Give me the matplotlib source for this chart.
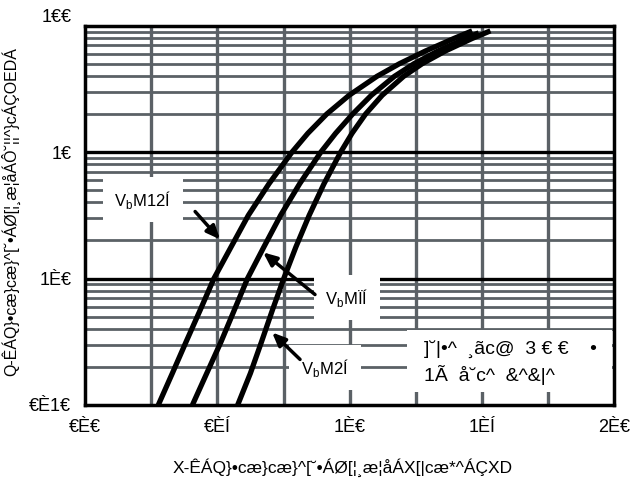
import numpy as np
import matplotlib
matplotlib.use('Agg')
import matplotlib.pyplot as plt
import matplotlib.transforms as mtransforms
from matplotlib.patches import Rectangle

plt.rcParams['font.family'] = ['Liberation Sans', 'DejaVu Sans']

# forward curves, current (A) and voltage (V)
i_hot = [0.1, 0.178, 0.316, 0.562, 1, 1.78, 3.16, 5.62, 10, 14.1, 20, 28.2, 39.8, 50.1,
         63.1, 79.4, 91.2]
v_hot = [0.277, 0.330, 0.382, 0.435, 0.487, 0.552, 0.617, 0.695, 0.782, 0.842, 0.913, 0.998,
         1.103, 1.188, 1.286, 1.394, 1.463]
i_mid = [0.1, 0.178, 0.316, 0.562, 1, 1.78, 3.16, 5.62, 10, 14.1, 20, 28.2, 39.8, 50.1,
         63.1, 79.4, 88.0]
v_mid = [0.406, 0.460, 0.514, 0.564, 0.614, 0.676, 0.739, 0.811, 0.891, 0.947, 1.011, 1.082,
         1.169, 1.243, 1.333, 1.438, 1.488]
i_cold = [0.1, 0.178, 0.316, 0.562, 1, 1.78, 3.16, 5.62, 10, 14.1, 20, 28.2, 39.8, 50.1,
          63.1, 79.4, 91.2]
v_cold = [0.577, 0.625, 0.667, 0.708, 0.751, 0.797, 0.847, 0.903, 0.966, 1.009, 1.06, 1.123,
          1.204, 1.274, 1.361, 1.463, 1.532]

xticks = [0, 0.5, 1.0, 1.5, 2.0]
xticklabels = ['€È€', '€ÈÍ', '1È€', '1ÈÍ', '2È€']
yticks = [0.1, 1, 10, 100]
yticklabels = ['€È1€', '1È€', '1€', '1€€']

xlabel = 'X-ÊÁQ}•cæ}cæ}^[˘•ÁØ[¦¸æ¦åÁX[|cæ*^ÁÇXD'
ylabel = 'Q-ÊÁQ}•cæ}cæ}^[˘•ÁØ[¦¸æ¦åÁÔ˘¦¦^}cÁÇOEDÁ'
note1 = ']˘|•^  ¸ãc@  3 € €    •'
note2 = '1Ã  å˘c^  &^&|^'

fig = plt.figure(figsize=(6.3, 4.78), dpi=100)
ax = fig.add_axes([0.135, 0.153, 0.84, 0.793])
ax.set_yscale('log')
ax.set_xlim(0, 2)
ax.set_ylim(0.1, 100)

grey = '#5b6166'
for d in [0.1, 1, 10]:
    for k in range(2, 10):
        ax.axhline(d * k, color=grey, lw=2.0, zorder=1)
for d in [1, 10]:
    ax.axhline(d, color='black', lw=2.4, zorder=1.5)
for xv in np.arange(0.25, 2.0, 0.25):
    ax.axvline(xv, color=grey, lw=2.4, zorder=1)

ax.plot(v_hot, i_hot, color='black', lw=3.8, solid_capstyle='butt', zorder=3)
ax.plot(v_mid, i_mid, color='black', lw=3.8, solid_capstyle='butt', zorder=3)
ax.plot(v_cold, i_cold, color='black', lw=3.8, solid_capstyle='butt', zorder=3)

for s in ax.spines.values():
    s.set_linewidth(2.5)
    s.set_zorder(4)

ax.set_xticks(xticks)
ax.set_xticklabels(xticklabels, fontsize=13)
ax.set_yticks(yticks)
ax.set_yticklabels(yticklabels, fontsize=13)
ax.minorticks_off()
ax.tick_params(length=0, pad=10)
# the top label sits a bit above the frame in the original
top = ax.get_yticklabels()[-1]
top.set_transform(top.get_transform() +
                  mtransforms.ScaledTranslation(0, 10 / 100, fig.dpi_scale_trans))

fig.text(343 / 630, 1 - 468 / 478, xlabel, fontsize=12.5, ha='center', va='center')
fig.text(11 / 630, 1 - 212 / 478, ylabel, fontsize=11.5, ha='center', va='center',
         rotation=90)

box = dict(boxstyle='square,pad=0.7', fc='white', ec='none')
arrow = dict(arrowstyle='-|>,head_length=0.8,head_width=0.35', color='black', lw=2.5,
             shrinkA=0, shrinkB=0)
ax.annotate(r'V$_{\mathregular{b}}$M12Í', xy=(0.219, 4.2), fontsize=12,
            ha='center', va='center', bbox=box, zorder=5)
ax.annotate('', xy=(0.51, 2.04), xytext=(0.416, 3.39), arrowprops=arrow, zorder=5)
ax.annotate(r'V$_{\mathregular{b}}$MÏÍ', xy=(0.99, 0.707), fontsize=12,
            ha='center', va='center', bbox=box, zorder=5)
ax.annotate('', xy=(0.673, 1.61), xytext=(0.869, 0.747), arrowprops=arrow, zorder=5)
ax.annotate(r'V$_{\mathregular{b}}$M2Í', xy=(0.907, 0.197), fontsize=12,
            ha='center', va='center', bbox=box, zorder=5)
ax.annotate('', xy=(0.707, 0.374), xytext=(0.8125, 0.229), arrowprops=arrow, zorder=5)

fig.patches.append(Rectangle((407 / 630, 1 - 392 / 478), 205 / 630, 62 / 478,
                             transform=fig.transFigure, fc='white', ec='none', zorder=5))
fig.text(424 / 630, 1 - 350 / 478, note1, fontsize=14, va='center', zorder=6)
fig.text(424 / 630, 1 - 375 / 478, note2, fontsize=14, va='center', zorder=6)

fig.savefig('out.png', dpi=100)
